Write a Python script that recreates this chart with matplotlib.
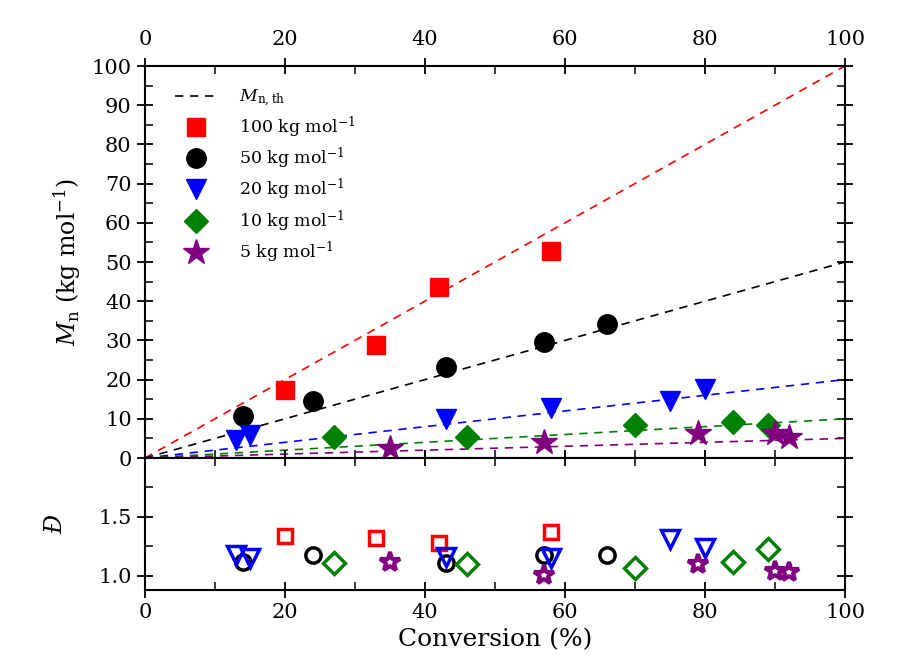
import numpy as np
import matplotlib.pyplot as plt

plt.rcParams['font.family'] = 'DejaVu Serif'
plt.rcParams['mathtext.fontset'] = 'dejavuserif'

# target molar masses (kg/mol) and styles
targets = [100, 50, 20, 10, 5]
labels = ['100 kg mol$^{-1}$', '50 kg mol$^{-1}$', '20 kg mol$^{-1}$',
          '10 kg mol$^{-1}$', '5 kg mol$^{-1}$']
colors = ['red', 'black', 'blue', 'green', 'purple']
markers = ['s', 'o', 'v', 'D', '*']
msize_top = [13, 14, 15, 12, 19]
msize_bot = [10, 11, 13, 11, 15]

# conversion (%)
conv = [[20, 33, 42, 58],
        [14, 24, 43, 57, 66],
        [13, 15, 43, 58, 75, 80],
        [27, 46, 70, 84, 89],
        [35, 57, 79, 90, 92]]
# Mn (kg/mol)
mn = [[17.3, 28.8, 43.6, 52.8],
      [10.7, 14.5, 23.2, 29.5, 34.2],
      [4.6, 5.9, 9.9, 12.7, 14.6, 17.6],
      [5.3, 5.3, 8.4, 9.3, 8.4],
      [2.5, 4.2, 6.3, 6.5, 5.4]]
# dispersity
disp = [[1.34, 1.32, 1.28, 1.375],
        [1.12, 1.18, 1.11, 1.18, 1.18],
        [1.18, 1.15, 1.16, 1.15, 1.31, 1.235],
        [1.11, 1.10, 1.065, 1.12, 1.225],
        [1.12, 1.01, 1.10, 1.04, 1.03]]

fig = plt.figure(figsize=(9.23, 6.66), dpi=100)
ax1 = fig.add_axes([0.157, 0.3123, 0.7585, 0.5886])
ax2 = fig.add_axes([0.157, 0.1141, 0.7585, 0.1982])

# theoretical lines
ax1.plot([0, 100], [0, 0], color='k', lw=1.2, dashes=(5, 4),
         label='$M_{\\mathrm{n,th}}$')
for t, c in zip(targets, colors):
    ax1.plot([0, 100], [0, t], color=c, lw=1.2, dashes=(5, 4))

for i in range(len(targets)):
    ax1.plot(conv[i], mn[i], ls='none', marker=markers[i], color=colors[i],
             ms=msize_top[i], label=labels[i])
    ax2.plot(conv[i], disp[i], ls='none', marker=markers[i], mec=colors[i],
             mfc='none', mew=3 if markers[i] == '*' else 2.5, ms=msize_bot[i])

ax1.set_xlim(0, 100)
ax1.set_ylim(0, 100)
ax2.set_xlim(0, 100)
ax2.set_ylim(0.88, 2.0)

ax1.set_xticks(range(0, 101, 20))
ax1.set_xticks(range(10, 100, 20), minor=True)
ax1.set_yticks(range(0, 101, 10))
ax1.set_yticks(range(5, 100, 10), minor=True)
ax2.set_xticks(range(0, 101, 20))
ax2.set_xticks(range(10, 100, 20), minor=True)
ax2.set_yticks([1.0, 1.5])
ax2.set_yticks([1.25, 1.75], minor=True)

for ax in (ax1, ax2):
    ax.tick_params(which='major', direction='inout', length=12, width=1.3,
                   labelsize=15, top=True, right=True)
    ax.tick_params(which='minor', direction='in', length=6, width=1.1,
                   top=True, right=True)
    for s in ax.spines.values():
        s.set_linewidth(1.5)
ax1.tick_params(labeltop=True, labelbottom=False)
ax1.tick_params(axis='x', which='major', pad=6)

ax1.set_ylabel('$M_\\mathrm{n}$ (kg mol$^{-1}$)', fontsize=17, labelpad=6)
ax2.set_ylabel('Đ', fontsize=17, fontstyle='italic', labelpad=22, rotation=90)
ax2.set_xlabel('Conversion (%)', fontsize=18, labelpad=4)
fig.align_ylabels([ax1, ax2])

ax1.legend(loc='upper left', bbox_to_anchor=(0.02, 0.985), frameon=False,
           fontsize=12.5, handlelength=2.5, labelspacing=0.35, handletextpad=1.2)

fig.savefig('out.png', dpi=100)
